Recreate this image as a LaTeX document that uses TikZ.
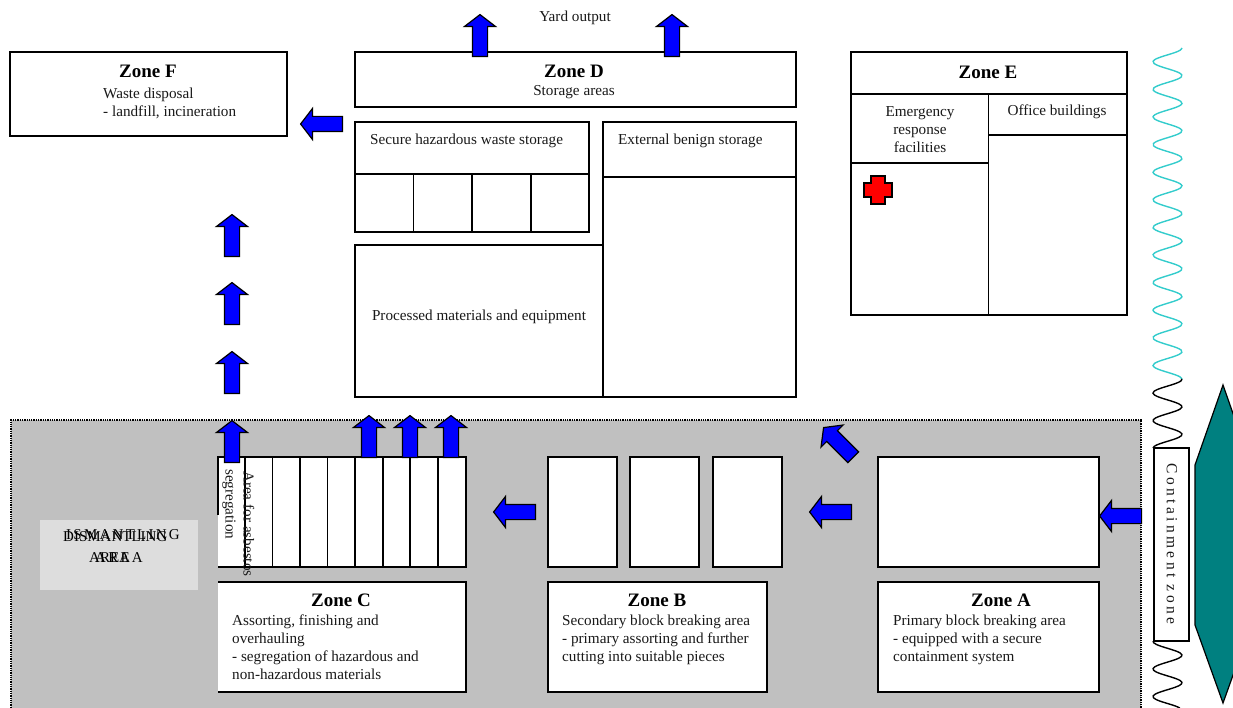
\documentclass[tikz,border=0pt]{standalone}
\usepackage{fontspec}
\setmainfont{Liberation Serif}
\newfontfamily\spacedfont[LetterSpace=15]{Liberation Serif}
\newfontfamily\wspacedfont[LetterSpace=22]{Liberation Serif}
\usetikzlibrary{shapes.arrows}
\definecolor{zonegray}{HTML}{C0C0C0}
\definecolor{labelgray}{HTML}{DDDDDD}
\definecolor{wavecyan}{HTML}{33CCCC}
\definecolor{tealshape}{HTML}{008080}
\tikzset{
  box/.style={draw=black,line width=1.2pt,fill=white,inner sep=0pt,outer sep=0pt},
  txt/.style={font=\fontsize{15.2}{18}\selectfont,inner sep=0pt,text=black!90},
  ltxt/.style={txt,align=left,anchor=north west},
  ctxt/.style={txt,align=center},
  ztitle/.style={font=\fontsize{19}{22}\selectfont\bfseries,inner sep=0pt},
  barrow/.style={shape=single arrow,draw=black,line width=1.2pt,fill=blue,minimum height=42pt,minimum width=30pt,
    single arrow head extend=8pt,single arrow tip angle=105,single arrow head indent=0pt,inner xsep=0pt,inner ysep=7pt,outer sep=0pt},
  wave/.style={line width=1.4pt,smooth}
}
\newcommand{\zbox}[5]{\node[box,minimum width={(#4)-(#2)},minimum height={(#5)-(#3)}] (#1) at ({((#2)+(#4))/2},{((#3)+(#5))/2}) {};}
\begin{document}
\begin{tikzpicture}[x=1pt,y=-1pt]
\useasboundingbox (0,0) rectangle (1233,708);
\clip (0,0) rectangle (1233,708);
% dismantling area
\fill[zonegray] (11,420) rectangle (1141,708);
\draw[densely dotted,line width=1.3pt] (11,708) -- (11,420) -- (1141,420) -- (1141,708);
\node[fill=labelgray,minimum width=158pt,minimum height=70pt,inner sep=0pt] (dlabel) at (119,555) {};
\node[txt,align=left,anchor=north west,font=\spacedfont\fontsize{15}{23}\selectfont,text=black] (dtexta) at (66,529) {ISMANTLING\\\hspace{29pt}AREA};
\node[txt,align=left,anchor=north west,text=black,font=\fontsize{15}{21}\selectfont] (dtextb) at (63,531.5) {DISMANTLING\\\hspace{26pt}AREA};
% zone F
\zbox{zf}{10}{52}{287}{136}
\node[ztitle] (zft) at (148,71) {Zone F};
\node[ltxt] (zfd) at (103,87.5) {Waste disposal\\- landfill, incineration};
% zone D
\zbox{zd}{355}{52}{796}{107}
\node[ztitle] (zdt) at (574,71) {Zone D};
\node[ctxt] (zdd) at (574,92.5) {Storage areas};
\node[ctxt] (yard) at (575,18) {Yard output};
\zbox{shw}{355}{122}{589}{174}
\node[ltxt,anchor=west] (shwt) at (370,141) {Secure hazardous waste storage};
\zbox{s1}{355}{174}{413.5}{232}
\zbox{s2}{413.5}{174}{472}{232}
\zbox{s3}{472}{174}{531}{232}
\zbox{s4}{531}{174}{589}{232}
\zbox{ext}{603}{122}{796}{177}
\zbox{extb}{603}{177}{796}{397}
\node[ltxt,anchor=west] (extt) at (618,141) {External benign storage};
\zbox{proc}{355}{245}{603}{397}
\node[ctxt] (proct) at (479,317) {Processed materials and equipment};
% zone E
\zbox{ze}{851}{52}{1127}{94}
\node[ztitle] (zet) at (988,72) {Zone E};
\zbox{em}{851}{94}{988.5}{163}
\zbox{emb}{851}{163}{988.5}{315}
\zbox{of}{988.5}{94}{1127}{135}
\zbox{ofb}{988.5}{135}{1127}{315}
\node[ctxt] (emt) at (920,130) {Emergency\\response\\facilities};
\node[ctxt] (oft) at (1057,112) {Office buildings};
\draw[line width=1.2pt,fill=red] (871,176) -- (885,176) -- (885,183) -- (892,183) -- (892,197) -- (885,197) -- (885,204) -- (871,204) -- (871,197) -- (864,197) -- (864,183) -- (871,183) -- cycle;
% zone C strip
\fill[white] (218,457) rectangle (245,567);
\draw[line width=1.2pt] (218,515) -- (218,457) -- (245,457);
\draw[line width=1.2pt] (218,567) -- (245,567);
\zbox{c2}{245}{457}{272.5}{567}
\zbox{c3}{272.5}{457}{300}{567}
\zbox{c4}{300}{457}{327.5}{567}
\zbox{c5}{327.5}{457}{355}{567}
\zbox{c6}{355}{457}{383}{567}
\zbox{c7}{383}{457}{410}{567}
\zbox{c8}{410}{457}{438}{567}
\zbox{c9}{438}{457}{466}{567}
\node[txt,rotate=-90,anchor=west] (seg) at (229,469) {segregation};
\node[txt,rotate=-90,anchor=west] (asb) at (249,471) {Area for asbestos};
% zone C text
\fill[white] (218,582) rectangle (466,692);
\draw[line width=1.2pt] (218,582) -- (466,582) -- (466,692) -- (218,692);
\node[ztitle] (zct) at (341,600) {Zone C};
\node[ltxt] (zcd) at (232,614.5) {Assorting, finishing and\\overhauling\\- segregation of hazardous and\\non-hazardous materials};
% zone B
\zbox{b1}{548}{457}{617}{567}
\zbox{b2}{630}{457}{699}{567}
\zbox{b3}{713}{457}{782}{567}
\zbox{zb}{548}{582}{767}{692}
\node[ztitle] (zbt) at (657,600) {Zone B};
\node[ltxt] (zbd) at (562,614.5) {Secondary block breaking area\\- primary assorting and further\\cutting into suitable pieces};
% zone A
\zbox{a1}{878}{457}{1099}{567}
\zbox{za}{878}{582}{1099}{692}
\node[ztitle] (zat) at (1001,600) {Zone A};
\node[ltxt] (zad) at (893,614.5) {Primary block breaking area\\- equipped with a secure\\containment system};
% arrows
\node[barrow,rotate=90] (ay1) at (480,38.5) {};
\node[barrow,rotate=90] (ay2) at (672,38.5) {};
\node[barrow,rotate=180] (af) at (324.5,124) {};
\node[barrow,rotate=90] (au1) at (232,238.5) {};
\node[barrow,rotate=90] (au2) at (232,306.5) {};
\node[barrow,rotate=90] (au3) at (232,375.5) {};
\node[barrow,rotate=90] (au4) at (232,444.5) {};
\node[barrow,rotate=90] (ac1) at (369,439.5) {};
\node[barrow,rotate=90] (ac2) at (410,439.5) {};
\node[barrow,rotate=90] (ac3) at (451,439.5) {};
\node[barrow,rotate=180] (ab) at (517.5,512) {};
\node[barrow,rotate=180] (aa) at (833.5,512) {};
\node[barrow,rotate=180] (acz) at (1123.5,516) {};
\node[barrow,rotate=135] (ad) at (840.5,444.5) {};
% waves
\draw[wave,wavecyan] plot[domain=48:379,samples=150] ({1167.5+14.5*cos(13.0435*(\x-48))},\x);
\draw[wave] plot[domain=379:448,samples=40] ({1167.5+14.5*cos(13.0435*(\x-48))},\x);
\draw[wave] plot[domain=641:708,samples=40] ({1167.5+14.5*cos(13.0435*(\x-48))},\x);
% containment
\zbox{cz}{1154}{448}{1189}{641}
\node[txt,rotate=-90,font=\wspacedfont\fontsize{15.5}{16}\selectfont] (czt) at (1172,544) {Containment zone};
% teal
\draw[fill=tealshape,line width=1.2pt] (1223,385) -- (1251,465) -- (1251,625) -- (1223,703) -- (1195,625) -- (1195,465) -- cycle;
\end{tikzpicture}
\end{document}
